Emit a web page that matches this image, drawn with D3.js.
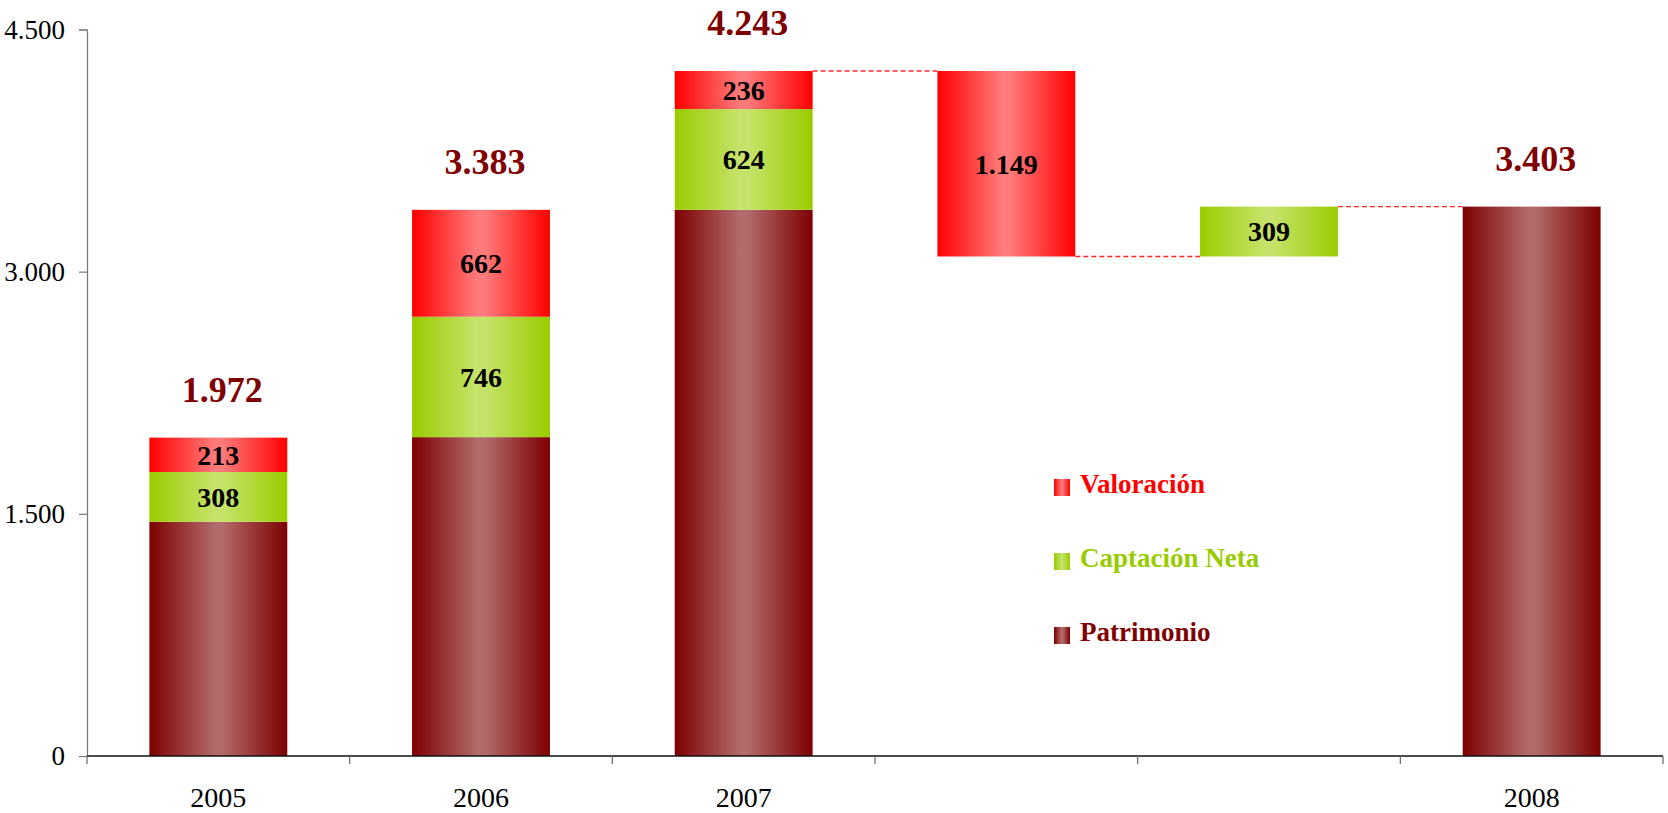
<!DOCTYPE html>
<html>
<head>
<meta charset="utf-8">
<script src="https://cdn.jsdelivr.net/npm/d3@7"></script>
<style>
  body { margin: 0; background: #fff; }
  svg text { font-family: "Liberation Serif", "Times New Roman", serif; }
</style>
</head>
<body>
<div id="chart"></div>
<script>
// slots on the x axis; the two middle ones are the 2008 movements
const slots = ["2005", "2006", "2007", "valoracion2008", "captacion2008", "2008"];
const tickLabels = ["2005", "2006", "2007", "", "", "2008"];

// stacked values (bottom to top), null where the slot has no such part
const patrimonio = [1451, 1975, 3383, null, null, 3403];
const captacion  = [308, 746, 624, null, 309, null];
const valoracion = [213, 662, 236, -1149, null, null];
const totals     = [1972, 3383, 4243, null, null, 3403];

const yTicks = [0, 1500, 3000, 4500];

const legendItems = ["Valoración", "Captación Neta", "Patrimonio"];

const width = 1668, height = 813;
const margin = {top: 29.5, left: 87, bottom: 57, right: 5};

const colors = {
    pat: {edge: "#7d0000", mid: "#b26a6a", text: "#800000"},
    cap: {edge: "#99cc00", mid: "#c5e36a", text: "#99cc00"},
    val: {edge: "#ff0000", mid: "#ff7a7a", text: "#ff0000"}
};

const locale = d3.formatLocale({decimal: ",", thousands: ".", grouping: [3], currency: ["", "€"]});
const fmt = locale.format(",d");

const svg = d3.select("#chart").append("svg")
    .attr("width", width)
    .attr("height", height);

// horizontal "cylinder" gradients
const defs = svg.append("defs");
Object.keys(colors).forEach(function(k) {
    const g = defs.append("linearGradient")
        .attr("id", "grad-" + k)
        .attr("x1", "0%").attr("x2", "100%")
        .attr("y1", "0%").attr("y2", "0%");
    g.append("stop").attr("offset", "0%").attr("stop-color", colors[k].edge);
    g.append("stop").attr("offset", "47%").attr("stop-color", colors[k].mid);
    g.append("stop").attr("offset", "53%").attr("stop-color", colors[k].mid);
    g.append("stop").attr("offset", "100%").attr("stop-color", colors[k].edge);
});

const x = d3.scaleBand()
    .domain(slots)
    .range([margin.left, width - margin.right])
    .paddingInner(0.475)
    .paddingOuter(0.2375);

const y = d3.scaleLinear()
    .domain([0, 4500])
    .range([height - margin.bottom, margin.top]);

// build segments
let segments = [];
let running = 0;
slots.forEach(function(s, i) {
    if (patrimonio[i] != null || i < 3) {
        // stacked column
        let base = 0;
        [["pat", patrimonio[i]], ["cap", captacion[i]], ["val", valoracion[i]]].forEach(function(p) {
            if (p[1] == null) return;
            segments.push({slot: s, key: p[0], y0: base, y1: base + p[1], value: p[1]});
            base += p[1];
        });
        running = base;
    } else {
        // floating waterfall piece
        const v = valoracion[i] != null ? valoracion[i] : captacion[i];
        const key = valoracion[i] != null ? "val" : "cap";
        segments.push({slot: s, key: key, y0: running, y1: running + v, value: v, floating: true});
        running += v;
    }
});

// dashed connectors between the 2007 top, the movements and 2008
const flow = [];
let level = totals[2];
for (let i = 2; i < slots.length - 1; i++) {
    const seg = segments.filter(d => d.slot === slots[i + 1])[0];
    const lvl = i === 2 ? totals[2] : segments.filter(d => d.slot === slots[i])[0].y1;
    flow.push({from: slots[i], to: slots[i + 1], v: lvl});
}

svg.append("g").selectAll("line")
    .data(flow)
    .enter().append("line")
    .attr("x1", d => x(d.from) + x.bandwidth())
    .attr("x2", d => x(d.to))
    .attr("y1", d => y(d.v))
    .attr("y2", d => y(d.v))
    .attr("stroke", "#ff2b2b")
    .attr("stroke-width", 1.3)
    .attr("stroke-dasharray", "5,3");

svg.append("g").selectAll("rect")
    .data(segments)
    .enter().append("rect")
    .attr("x", d => x(d.slot))
    .attr("width", x.bandwidth())
    .attr("y", d => y(Math.max(d.y0, d.y1)))
    .attr("height", d => Math.abs(y(d.y0) - y(d.y1)))
    .attr("fill", d => "url(#grad-" + d.key + ")");

// values inside the movement segments
svg.append("g").selectAll("text")
    .data(segments.filter(d => d.key !== "pat"))
    .enter().append("text")
    .attr("x", d => x(d.slot) + x.bandwidth() / 2)
    .attr("y", d => (y(d.y0) + y(d.y1)) / 2)
    .attr("dy", "0.35em")
    .attr("text-anchor", "middle")
    .attr("font-size", 28)
    .attr("font-weight", "bold")
    .attr("fill", "#000")
    .text(d => fmt(Math.abs(d.value)));

// totals above the columns
svg.append("g").selectAll("text")
    .data(slots.map((s, i) => ({slot: s, v: totals[i]})).filter(d => d.v != null))
    .enter().append("text")
    .attr("x", d => x(d.slot) + x.bandwidth() / 2 + 4)
    .attr("y", d => y(d.v) - 36)
    .attr("text-anchor", "middle")
    .attr("font-size", 36)
    .attr("font-weight", "bold")
    .attr("fill", colors.pat.text)
    .text(d => fmt(d.v));

// y axis
const yAxis = svg.append("g")
    .attr("transform", "translate(" + margin.left + ",0)")
    .call(d3.axisLeft(y).tickValues(yTicks).tickFormat(fmt).tickSize(8).tickPadding(14));
yAxis.select(".domain").attr("stroke", "#777").attr("stroke-width", 1.2);
yAxis.selectAll(".tick line").attr("stroke", "#777").attr("stroke-width", 1.2);
yAxis.selectAll(".tick text")
    .attr("font-size", 27)
    .attr("fill", "#000")
    .style("font-family", "Liberation Serif, serif");

// x axis: ticks on the slot boundaries
const bottom = height - margin.bottom;
const xAxisG = svg.append("g");
xAxisG.append("line")
    .attr("x1", margin.left).attr("x2", width - margin.right)
    .attr("y1", bottom).attr("y2", bottom)
    .attr("stroke", "#111").attr("stroke-width", 1.5);
const boundaries = slots.map(s => x(s) - x.step() * x.paddingInner() / 2)
    .concat([width - margin.right]);
xAxisG.selectAll(".xtick")
    .data(boundaries)
    .enter().append("line")
    .attr("class", "xtick")
    .attr("x1", d => d).attr("x2", d => d)
    .attr("y1", bottom).attr("y2", bottom + 8)
    .attr("stroke", "#666").attr("stroke-width", 1.2);
xAxisG.selectAll(".xlabel")
    .data(slots)
    .enter().append("text")
    .attr("class", "xlabel")
    .attr("x", d => x(d) + x.bandwidth() / 2)
    .attr("y", bottom + 51)
    .attr("text-anchor", "middle")
    .attr("font-size", 28)
    .attr("fill", "#000")
    .text((d, i) => tickLabels[i]);

// legend
const legendKeys = ["val", "cap", "pat"];
const legend = svg.append("g")
    .attr("transform", "translate(1054,479)");
const li = legend.selectAll("g")
    .data(legendItems)
    .enter().append("g")
    .attr("transform", (d, i) => "translate(0," + (i * 74) + ")");
li.append("rect")
    .attr("width", 16).attr("height", 17)
    .attr("fill", (d, i) => "url(#grad-" + legendKeys[i] + ")");
li.append("text")
    .attr("x", 26)
    .attr("y", 14)
    .attr("font-size", 27)
    .attr("font-weight", "bold")
    .attr("fill", (d, i) => colors[legendKeys[i]].text)
    .text(d => d);
</script>
</body>
</html>
